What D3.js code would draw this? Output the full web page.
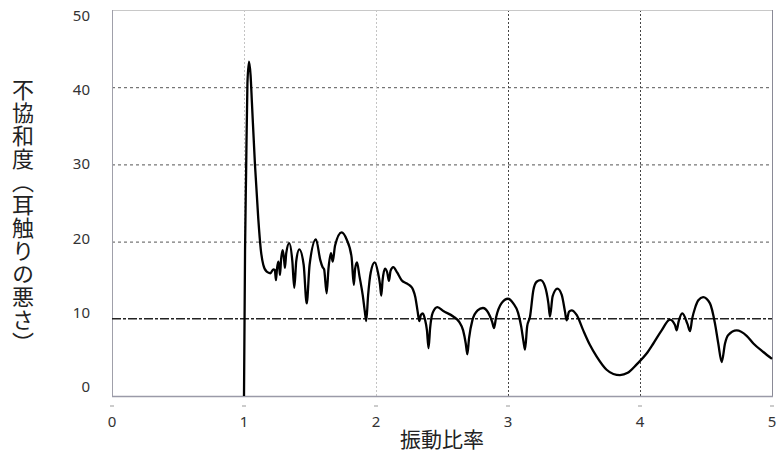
<!DOCTYPE html>
<html>
    <head>
        <meta charset="utf-8">
        <script src="https://cdn.jsdelivr.net/npm/d3@7"></script>
        <style>
            body { margin: 0; background: #fff; }
        </style>
    </head>
    <body>
        <script>
            var w = 779;
            var h = 465;

            // dissonance curve
            var ratios = [
                1.000, 1.008, 1.016, 1.026, 1.038, 1.050, 1.060, 1.083, 1.108, 1.127,
                1.146, 1.172, 1.200, 1.222, 1.234, 1.242, 1.250, 1.260, 1.268, 1.273,
                1.280, 1.293, 1.303, 1.310, 1.320, 1.343, 1.366, 1.381, 1.396, 1.419,
                1.452, 1.475, 1.497, 1.545, 1.578, 1.595, 1.607, 1.626, 1.640, 1.659,
                1.672, 1.690, 1.740, 1.777, 1.815, 1.832, 1.842, 1.856, 1.875, 1.900,
                1.915, 1.926, 1.940, 1.960, 1.990, 2.015, 2.030, 2.040, 2.050, 2.068,
                2.085, 2.098, 2.110, 2.131, 2.160, 2.194, 2.230, 2.258, 2.280, 2.298,
                2.315, 2.328, 2.340, 2.355, 2.370, 2.386, 2.398, 2.410, 2.430, 2.465,
                2.510, 2.585, 2.630, 2.660, 2.680, 2.692, 2.705, 2.730, 2.770, 2.810,
                2.850, 2.880, 2.894, 2.910, 2.950, 3.000, 3.040, 3.076, 3.100, 3.118,
                3.129, 3.145, 3.167, 3.192, 3.217, 3.247, 3.280, 3.306, 3.318, 3.338,
                3.374, 3.407, 3.432, 3.444, 3.462, 3.482, 3.520, 3.570, 3.621, 3.672,
                3.747, 3.798, 3.848, 3.907, 3.975, 4.050, 4.101, 4.164, 4.227, 4.265,
                4.278, 4.292, 4.321, 4.360, 4.379, 4.395, 4.417, 4.442, 4.478, 4.530,
                4.568, 4.593, 4.619, 4.644, 4.669, 4.732, 4.808, 4.859, 4.934, 5.000
            ];
            var dissonance = [
                0.0, 19.0, 29.0, 40.5, 43.3, 41.5, 38.0, 30.0, 23.0, 19.0,
                17.0, 16.1, 15.9, 16.4, 16.3, 15.0, 16.5, 17.4, 16.5, 15.7,
                17.5, 18.9, 17.8, 16.6, 18.5, 19.8, 17.5, 14.0, 17.5, 19.0,
                17.0, 12.0, 17.0, 20.3, 17.6, 16.7, 16.4, 13.3, 16.5, 18.5,
                17.4, 19.5, 21.2, 20.3, 18.0, 14.4, 16.5, 17.3, 15.5, 13.0,
                11.0, 9.7, 13.0, 16.0, 17.3, 16.0, 14.5, 13.0, 15.0, 16.5,
                16.0, 14.9, 16.2, 16.7, 16.0, 15.0, 14.6, 14.3, 13.8, 12.8,
                11.0, 9.7, 10.5, 10.7, 10.0, 8.5, 6.2, 8.8, 10.8, 11.5,
                11.0, 10.3, 9.6, 8.5, 6.8, 5.4, 7.5, 9.8, 11.1, 11.4,
                10.8, 9.6, 8.8, 10.2, 12.0, 12.6, 12.0, 10.8, 9.0, 7.0,
                6.0, 9.0, 10.3, 13.7, 14.8, 15.0, 14.2, 12.0, 10.3, 12.9,
                13.9, 13.1, 10.9, 9.8, 10.9, 11.1, 10.5, 8.5, 6.6, 5.1,
                3.4, 2.85, 2.7, 3.0, 4.1, 5.5, 6.8, 8.5, 9.9, 9.2,
                8.5, 9.6, 10.7, 9.3, 8.4, 10.0, 11.4, 12.4, 12.8, 12.0,
                9.4, 6.8, 4.4, 6.8, 7.9, 8.5, 7.8, 6.8, 5.7, 4.8
            ];

            var xTicks = [0, 1, 2, 3, 4, 5];
            var yTicks = [0, 10, 20, 30, 40, 50];
            var yGrid = [20, 30, 40];
            var threshold = 10;

            var pts = ratios.map((r, i) => ({ r: r, d: dissonance[i] }));

            var x = d3.scaleLinear().domain([0, 5]).range([112, 772]);
            var y = d3.scaleLinear().domain([0, 50]).range([396, 10]);
            // tick labels in the picture sit a bit tighter than the grid
            var yLab = d3.scaleLinear().domain([0, 50]).range([388, 17]);

            var svg = d3.select("body")
                        .append("svg")
                        .attr("width", w)
                        .attr("height", h);

            //grid
            svg.selectAll("line.hgrid")
               .data(yGrid)
               .enter()
               .append("line")
               .attr("x1", x(0))
               .attr("x2", x(5))
               .attr("y1", d => y(d) + 0.5)
               .attr("y2", d => y(d) + 0.5)
               .attr("stroke", "#555")
               .attr("stroke-width", 1)
               .attr("stroke-dasharray", "3,3");

            svg.selectAll("line.vgrid")
               .data([1, 2, 3, 4])
               .enter()
               .append("line")
               .attr("x1", d => x(d) + 0.5)
               .attr("x2", d => x(d) + 0.5)
               .attr("y1", y(50))
               .attr("y2", y(0))
               .attr("stroke", d => d < 3 ? "#c4c4c4" : "#444")
               .attr("stroke-width", 1)
               .attr("stroke-dasharray", "2,2");

            //frame
            svg.append("line")
               .attr("x1", x(0)).attr("x2", x(5))
               .attr("y1", y(50) + 0.5).attr("y2", y(50) + 0.5)
               .attr("stroke", "#c8c8c8");
            svg.append("line")
               .attr("x1", x(5) + 0.5).attr("x2", x(5) + 0.5)
               .attr("y1", y(50)).attr("y2", y(0))
               .attr("stroke", "#8a8a96");
            svg.append("line")
               .attr("x1", x(0) + 0.5).attr("x2", x(0) + 0.5)
               .attr("y1", y(50)).attr("y2", y(0))
               .attr("stroke", "#a0a0aa");
            svg.append("line")
               .attr("x1", x(0)).attr("x2", x(5) + 1)
               .attr("y1", y(0) + 0.5).attr("y2", y(0) + 0.5)
               .attr("stroke", "#9a9aa8")
               .attr("stroke-width", 1.5);

            //threshold line
            svg.append("line")
               .attr("x1", x(0))
               .attr("x2", x(5))
               .attr("y1", y(threshold))
               .attr("y2", y(threshold))
               .attr("stroke", "#222")
               .attr("stroke-width", 1.6)
               .attr("stroke-dasharray", "9,2,3,2");

            //curve
            var line = d3.line()
                         .x(d => x(d.r))
                         .y(d => y(d.d))
                         .curve(d3.curveMonotoneX);

            svg.append("path")
               .datum(pts)
               .attr("d", line)
               .attr("fill", "none")
               .attr("stroke", "#000")
               .attr("stroke-width", 2.3)
               .attr("stroke-linejoin", "round");

            //tick dashes below the axis
            svg.selectAll("line.tk")
               .data(xTicks)
               .enter()
               .append("line")
               .attr("x1", d => x(d) - 2)
               .attr("x2", d => x(d) + 2)
               .attr("y1", 406)
               .attr("y2", 406)
               .attr("stroke", "#999")
               .attr("stroke-width", 1);

            //labels
            svg.selectAll("text.xl")
               .data(xTicks)
               .enter()
               .append("text")
               .text(d => d)
               .attr("x", d => x(d))
               .attr("y", 423)
               .attr("dominant-baseline", "middle")
               .attr("text-anchor", "middle")
               .attr("font-family", "Noto Sans, sans-serif")
               .attr("font-size", "15px")
               .attr("fill", "#333");

            svg.selectAll("text.yl")
               .data(yTicks)
               .enter()
               .append("text")
               .text(d => d)
               .attr("x", 90)
               .attr("y", d => yLab(d))
               .attr("dominant-baseline", "middle")
               .attr("text-anchor", "end")
               .attr("font-family", "Noto Sans, sans-serif")
               .attr("font-size", "15px")
               .attr("fill", "#333");

            svg.append("text")
               .text("振動比率")
               .attr("x", 442)
               .attr("y", 441)
               .attr("dominant-baseline", "middle")
               .attr("text-anchor", "middle")
               .attr("font-family", "Noto Sans CJK JP, sans-serif")
               .attr("font-size", "21px")
               .attr("fill", "#222");

            svg.append("text")
               .text("不協和度（耳触りの悪さ）")
               .attr("x", 23)
               .attr("y", 217)
               .attr("text-anchor", "middle")
               .attr("font-family", "Noto Sans CJK JP, sans-serif")
               .attr("font-size", "22px")
               .attr("letter-spacing", "1px")
               .attr("fill", "#222")
               .style("writing-mode", "vertical-rl")
               .style("text-orientation", "mixed");
        </script>
    </body>
</html>
